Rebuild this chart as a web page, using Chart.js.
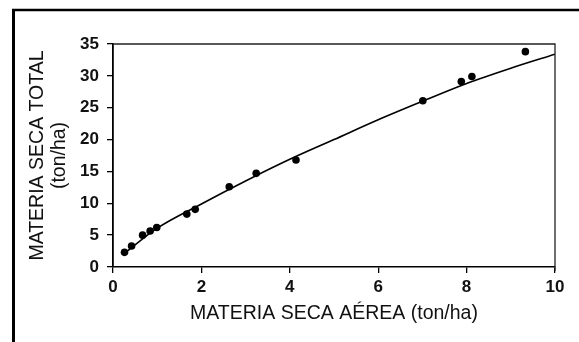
<!DOCTYPE html>
<html>
<head>
<meta charset="utf-8">
<script src="https://cdn.jsdelivr.net/npm/chart.js@4"></script>
<style>
html,body{margin:0;padding:0;background:#fff;}
canvas{display:block;}
</style>
</head>
<body>
<canvas id="c" width="579" height="342"></canvas>
<script>
// Observed points: dry matter aerial (x) vs total (y), ton/ha
const pointX = [0.26, 0.42, 0.67, 0.84, 0.99, 1.67, 1.86, 2.63, 3.24, 4.14, 7.01, 7.88, 8.12, 9.33];
const pointY = [2.3, 3.3, 5.0, 5.65, 6.2, 8.3, 9.05, 12.6, 14.7, 16.8, 26.1, 29.1, 29.9, 33.8];
// Fitted curve
const curveX = [0.27, 1, 2, 3, 4, 5, 6, 7, 8, 9, 10];
const curveY = [2.2, 6.1, 9.9, 13.5, 16.9, 20.0, 23.1, 26.0, 28.8, 31.2, 33.4];
const xTitle = 'MATERIA SECA AÉREA (ton/ha)';
const yTitle = ['MATERIA SECA TOTAL', '(ton/ha)'];

const toXY = (xs, ys) => xs.map((x, i) => ({x: x, y: ys[i]}));

const framePlugin = {
  id: 'frame',
  beforeDraw(chart) {
    const ctx = chart.ctx;
    ctx.save();
    ctx.fillStyle = '#fff';
    ctx.fillRect(0, 0, chart.width, chart.height);
    ctx.strokeStyle = '#000';
    ctx.lineWidth = 3;
    ctx.beginPath();
    ctx.moveTo(13.5, 342);
    ctx.lineTo(13.5, 10);
    ctx.stroke();
    ctx.lineWidth = 2.5;
    ctx.beginPath();
    ctx.moveTo(12, 10);
    ctx.lineTo(579, 10);
    ctx.stroke();
    ctx.restore();
  },
  afterDatasetsDraw(chart) {
    const a = chart.chartArea;
    const ctx = chart.ctx;
    ctx.save();
    ctx.strokeStyle = '#222';
    ctx.lineWidth = 1.3;
    ctx.beginPath();
    ctx.moveTo(a.left, a.top);
    ctx.lineTo(a.right, a.top);
    ctx.lineTo(a.right, a.bottom + 4);
    ctx.stroke();
    ctx.restore();
  }
};

Chart.defaults.font.family = "'Liberation Sans', Arial, sans-serif";
Chart.defaults.color = '#111';

new Chart(document.getElementById('c'), {
  type: 'scatter',
  data: {
    datasets: [
      {
        data: toXY(curveX, curveY),
        showLine: true,
        borderColor: '#000',
        borderWidth: 1.6,
        pointRadius: 0,
        tension: 0.4,
        cubicInterpolationMode: 'monotone',
        fill: false
      },
      {
        data: toXY(pointX, pointY),
        backgroundColor: '#000',
        borderColor: '#000',
        pointRadius: 3.8,
        pointBorderWidth: 0
      }
    ]
  },
  plugins: [framePlugin],
  options: {
    responsive: false,
    devicePixelRatio: 1,
    animation: false,
    layout: {padding: {left: 15, top: 44, right: 24, bottom: 0}},
    plugins: {legend: {display: false}, tooltip: {enabled: false}},
    scales: {
      x: {
        type: 'linear',
        min: 0, max: 10,
        ticks: {stepSize: 2, font: {size: 17, weight: 'bold'}, padding: 4, color: '#111'},
        grid: {drawOnChartArea: false, drawTicks: true, tickLength: 6, color: '#000', lineWidth: 1.3},
        border: {display: true, color: '#000', width: 1.5},
        title: {display: true, text: xTitle, font: {size: 19.5}, color: '#111', padding: {top: 0, bottom: 17}},
        afterFit(s) { s.height = 75; }
      },
      y: {
        type: 'linear',
        min: 0, max: 35,
        ticks: {stepSize: 5, font: {size: 17, weight: 'bold'}, padding: 8, color: '#111'},
        grid: {drawOnChartArea: false, drawTicks: true, tickLength: 6, color: '#000', lineWidth: 1.3},
        border: {display: true, color: '#000', width: 1.8},
        title: {display: true, text: yTitle, font: {size: 19.5, lineHeight: 1.13}, color: '#111', padding: {top: 12, bottom: 0}},
        afterFit(s) { s.width = 98; }
      }
    }
  }
});
</script>
</body>
</html>
